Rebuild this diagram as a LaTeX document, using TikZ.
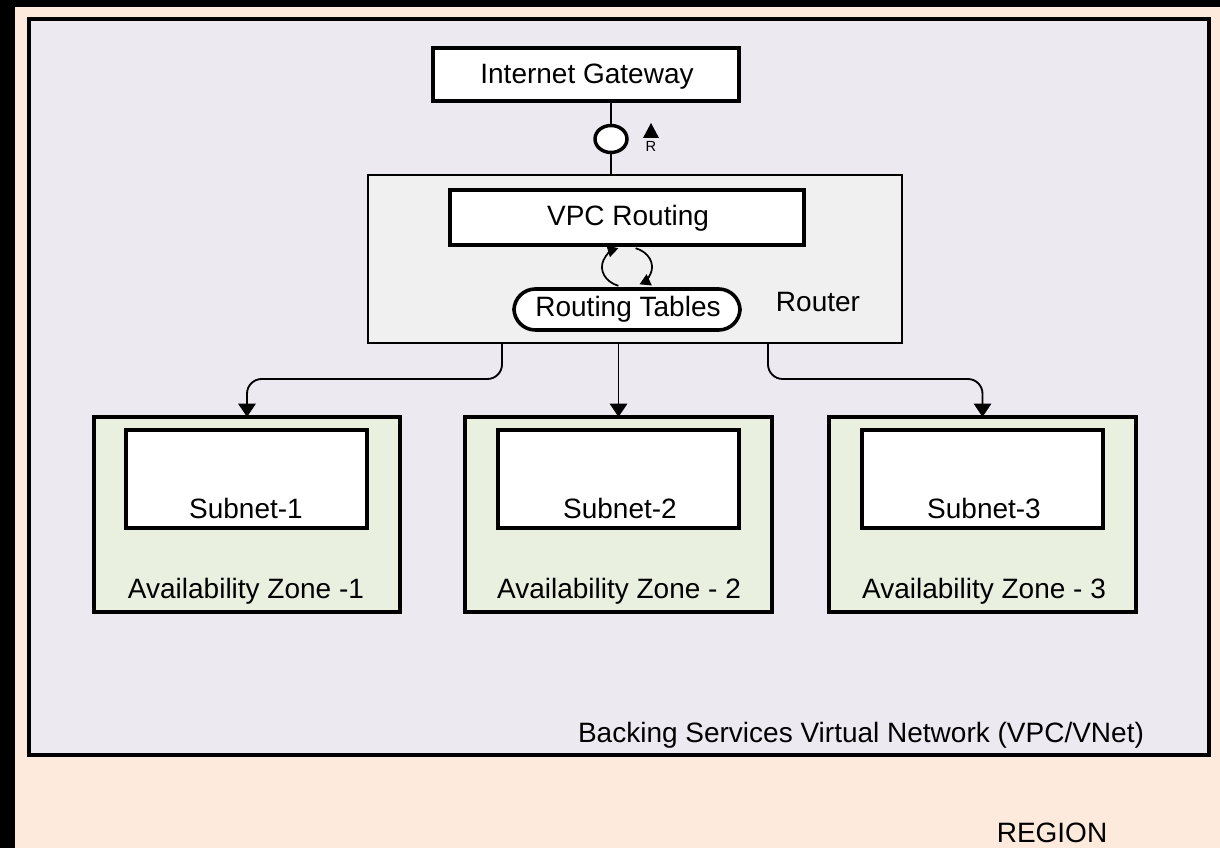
\documentclass[tikz,border=0pt]{standalone}
\usepackage{fontspec}
\setmainfont{Liberation Sans}
\usetikzlibrary{arrows.meta,shapes.geometric}
\definecolor{peach}{HTML}{FDEADD}
\definecolor{vpcfill}{HTML}{ECE9F1}
\definecolor{routerfill}{HTML}{F0F0F0}
\definecolor{azfill}{HTML}{E9F0DF}
\begin{document}
\begin{tikzpicture}[x=0.75pt,y=-0.75pt,
  every node/.style={font=\fontsize{21}{25}\selectfont, inner sep=0pt, outer sep=0pt},
  box/.style={draw, line width=2.7pt, fill=white},
  routerbox/.style={draw, line width=1.9pt, fill=routerfill},
  azbox/.style={draw, line width=2.7pt, fill=azfill},
  vpcbox/.style={draw, line width=3.2pt, fill=vpcfill},
  conn/.style={line width=1.4pt},
  arr/.style={line width=1.4pt, -{Triangle[length=10pt,width=13pt]}},
  cyc/.style={line width=1.3pt, -{Triangle[length=8pt,width=9pt]}},
  txt/.style={anchor=base}
]
\useasboundingbox (0,0) rectangle (1220,848);
\fill[black] (0,0) rectangle (1220,848);
\fill[peach] (15,7) rectangle (1220,848);

% VPC
\node[vpcbox, minimum width=1180*0.75pt, minimum height=736*0.75pt] (vpc) at (619,387) {};
\node[txt] (vpclbl) at (861,742) {Backing Services Virtual Network (VPC/VNet)};
\node[txt] (region) at (1052,842) {REGION};

% Internet gateway
\node[box, minimum width=306*0.75pt, minimum height=53*0.75pt] (ig) at (586,74.5) {};
\node[txt] (igt) at (587,84) {Internet Gateway};

% Router
\node[routerbox, minimum width=534*0.75pt, minimum height=168*0.75pt] (router) at (635,259) {};
\node[txt] (routert) at (818,312) {Router};
\node[box, minimum width=354*0.75pt, minimum height=55*0.75pt] (vpcr) at (627,217.5) {};
\node[txt] (vpcrt) at (628,226) {VPC Routing};
\node[box, rounded corners=16pt, minimum width=226*0.75pt, minimum height=41*0.75pt] (rt) at (627,309.5) {};
\node[txt] (rtt) at (628,317) {Routing Tables};

% gateway interface
\node[draw, ellipse, line width=2.6pt, fill=white, minimum width=32*0.75pt, minimum height=27*0.75pt] (gwc) at (611,139) {};
\draw[conn] (ig.south -| gwc) -- (gwc.north);
\draw[conn] (gwc.south) -- (router.north -| gwc);
\fill[black] (643,138) -- (659,138) -- (651,123) -- cycle;
\node[txt, font=\fontsize{11}{13}\selectfont] (rlbl) at (651,152) {R};

% cycle between VPC Routing and Routing Tables
\coordinate (c1) at (618.4,285.8);
\coordinate (c2) at (635.6,248.2);
\draw[cyc] (c1) arc[start angle=110, end angle=250, x radius=25, y radius=20];
\draw[cyc] (c2) arc[start angle=290, end angle=420, x radius=25, y radius=20];

% Availability zones
\node[azbox, minimum width=306*0.75pt, minimum height=195*0.75pt] (az1) at (247,514.5) {};
\node[azbox, minimum width=307*0.75pt, minimum height=195*0.75pt] (az2) at (618.5,514.5) {};
\node[azbox, minimum width=307*0.75pt, minimum height=195*0.75pt] (az3) at (982.5,514.5) {};
\node[box, minimum width=241*0.75pt, minimum height=98*0.75pt] (s1) at (246.5,479) {};
\node[box, minimum width=241*0.75pt, minimum height=98*0.75pt] (s2) at (618.5,479) {};
\node[box, minimum width=241*0.75pt, minimum height=98*0.75pt] (s3) at (982.5,479) {};
\node[txt] (s1t) at (246,518) {Subnet-1};
\node[txt] (s2t) at (620,518) {Subnet-2};
\node[txt] (s3t) at (984,518) {Subnet-3};
\node[txt] (az1t) at (246,598) {Availability Zone -1};
\node[txt] (az2t) at (619,598) {Availability Zone - 2};
\node[txt] (az3t) at (984,598) {Availability Zone - 3};

% router to zones
\draw[arr, rounded corners=11pt] ([xshift=-133*0.75pt]router.south) -- ++(0,36) -| (az1.north);
\draw[arr] (router.south -| az2.north) -- (az2.north);
\draw[arr, rounded corners=11pt] ([xshift=133*0.75pt]router.south) -- ++(0,36) -| (az3.north);
\end{tikzpicture}
\end{document}
